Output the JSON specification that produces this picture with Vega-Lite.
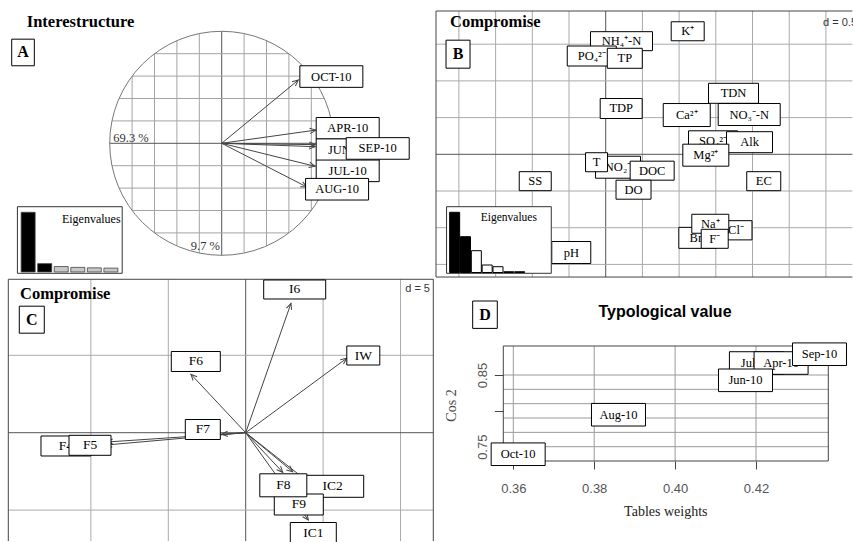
{
"$schema":"https://vega.github.io/schema/vega-lite/v6.json",
"padding":0,
"background":"white",
"bounds":"flush",
"columns":2,
"spacing":{"row":1,"column":6},
"config":{"view":{"stroke":null}},
"datasets":{
"gridA":[{"g":-0.8,"lo":-0.6,"hi":0.6},{"g":-0.6,"lo":-0.8,"hi":0.8},{"g":-0.4,"lo":-0.9165,"hi":0.9165},{"g":-0.2,"lo":-0.9798,"hi":0.9798},{"g":0,"lo":-1,"hi":1},{"g":0.2,"lo":-0.9798,"hi":0.9798},{"g":0.4,"lo":-0.9165,"hi":0.9165},{"g":0.6,"lo":-0.8,"hi":0.8},{"g":0.8,"lo":-0.6,"hi":0.6}],
"arrA":[{"lab":"OCT-10","x":0.684,"y":0.565,"lx":0.979,"ly":0.596},{"lab":"APR-10","x":0.84,"y":0.118,"lx":1.125,"ly":0.134},{"lab":"JUN-10","x":0.833,"y":-0.03,"lx":1.125,"ly":-0.057},{"lab":"JUL-10","x":0.833,"y":-0.205,"lx":1.125,"ly":-0.246},{"lab":"SEP-10","x":0.835,"y":-0.012,"lx":1.393,"ly":-0.046},{"lab":"AUG-10","x":0.76,"y":-0.39,"lx":1.03,"ly":-0.41}],
"eigA":[{"k":1,"v":4.158},{"k":2,"v":0.582},{"k":3,"v":0.38},{"k":4,"v":0.32},{"k":5,"v":0.29},{"k":6,"v":0.27}],
"eigB":[{"k":1,"v":6.02},{"k":2,"v":3.58},{"k":3,"v":2.18},{"k":4,"v":0.75},{"k":5,"v":0.58},{"k":6,"v":0.08},{"k":7,"v":0.08}],
"labB":[{"lab":"NH₄⁺-N","x":0.215,"y":1.541},{"lab":"K⁺","x":1.117,"y":1.676},{"lab":"PO₄²⁻","x":-0.19,"y":1.339},{"lab":"TP","x":0.26,"y":1.308},{"lab":"TDN","x":1.741,"y":0.831},{"lab":"TDP","x":0.211,"y":0.624},{"lab":"Ca²⁺","x":1.104,"y":0.535},{"lab":"NO₃⁻-N","x":1.955,"y":0.542},{"lab":"SO₄²⁻","x":1.462,"y":0.177},{"lab":"Alk","x":1.959,"y":0.165},{"lab":"Mg²⁺","x":1.364,"y":-0.012},{"lab":"T","x":-0.125,"y":-0.108},{"lab":"NO₂⁻","x":0.168,"y":-0.176},{"lab":"DOC","x":0.633,"y":-0.223},{"lab":"DO","x":0.379,"y":-0.482},{"lab":"SS","x":-0.96,"y":-0.366},{"lab":"EC","x":2.153,"y":-0.366},{"lab":"Na⁺","x":1.425,"y":-0.946},{"lab":"Cl⁻","x":1.775,"y":-1.035},{"lab":"Br⁻","x":1.255,"y":-1.138},{"lab":"F⁻","x":1.485,"y":-1.151},{"lab":"pH","x":-0.469,"y":-1.338}],
"gridBv":[{"g":-2},{"g":-1.5},{"g":-1},{"g":-0.5},{"g":0},{"g":0.5},{"g":1},{"g":1.5},{"g":2},{"g":2.5},{"g":3}],
"gridBh":[{"g":-1.5},{"g":-1},{"g":-0.5},{"g":0},{"g":0.5},{"g":1},{"g":1.5}],
"arrC":[{"lab":"I6","x":2.926,"y":8.359,"lx":3.165,"ly":9.251},{"lab":"IW","x":6.525,"y":4.806,"lx":7.597,"ly":4.987},{"lab":"F6","x":-3.534,"y":3.773,"lx":-3.223,"ly":4.6},{"lab":"F7","x":-1.55,"y":-0.103,"lx":-2.771,"ly":0.207},{"lab":"F4","x":-9.024,"y":-0.795,"lx":-11.609,"ly":-0.859},{"lab":"F5","x":-8.96,"y":-0.601,"lx":-10.058,"ly":-0.814},{"lab":"F8","x":2.39,"y":-2.558,"lx":2.429,"ly":-3.398},{"lab":"F9","x":3.036,"y":-2.519,"lx":3.43,"ly":-4.638},{"lab":"IC2","x":4.432,"y":-3.488,"lx":5.62,"ly":-3.463},{"lab":"IC1","x":4.044,"y":-5.64,"lx":4.367,"ly":-6.479}],
"gridCv":[{"g":-10},{"g":-5},{"g":0},{"g":5},{"g":10}],
"gridCh":[{"g":-5},{"g":0},{"g":5}],
"labD":[{"lab":"Oct-10","x":0.3612,"y":0.7395},{"lab":"Aug-10","x":0.386,"y":0.7946},{"lab":"Jul-10","x":0.4201,"y":0.8667},{"lab":"Apr-10","x":0.4262,"y":0.8667},{"lab":"Jun-10","x":0.4174,"y":0.8426},{"lab":"Sep-10","x":0.4357,"y":0.879}],
"gridDv":[{"g":0.36},{"g":0.38},{"g":0.4},{"g":0.42}],
"gridDh":[{"g":0.75},{"g":0.77},{"g":0.79},{"g":0.81},{"g":0.83},{"g":0.85}]
},
"concat":[
{"width":430,"height":278,"resolve":{"scale":{"x":"independent","y":"independent"}},"layer":[
{"layer":[
{"data":{"name":"gridA"},"mark":{"type":"rule","strokeWidth":1},"encoding":{"x":{"field":"g","type":"quantitative","scale":{"domain":[-1.9795,1.8598],"nice":false,"zero":false},"axis":null},"y":{"field":"lo","type":"quantitative","scale":{"domain":[-1.2027,1.2795],"nice":false,"zero":false},"axis":null},"y2":{"field":"hi"},"color":{"condition":{"test":"datum.g == 0","value":"#555555"},"value":"#a3a3a3"}}},
{"data":{"name":"gridA"},"mark":{"type":"rule","strokeWidth":1},"encoding":{"y":{"field":"g","type":"quantitative","scale":{"domain":[-1.2027,1.2795],"nice":false,"zero":false},"axis":null},"x":{"field":"lo","type":"quantitative","scale":{"domain":[-1.9795,1.8598],"nice":false,"zero":false},"axis":null},"x2":{"field":"hi"},"color":{"condition":{"test":"datum.g == 0","value":"#555555"},"value":"#a3a3a3"}}},
{"data":{"values":[{}]},"mark":{"type":"point","shape":"circle","size":50176,"filled":false,"stroke":"#777777","strokeWidth":1,"opacity":1},"encoding":{"x":{"datum":0,"type":"quantitative","scale":{"domain":[-1.9795,1.8598],"nice":false,"zero":false},"axis":null},"y":{"datum":0,"type":"quantitative","scale":{"domain":[-1.2027,1.2795],"nice":false,"zero":false},"axis":null}}},
{"data":{"name":"arrA"},"mark":{"type":"rule","color":"#444444","strokeWidth":1},"encoding":{"x":{"field":"x","type":"quantitative","scale":{"domain":[-1.9795,1.8598],"nice":false,"zero":false},"axis":null},"y":{"field":"y","type":"quantitative","scale":{"domain":[-1.2027,1.2795],"nice":false,"zero":false},"axis":null},"x2":{"datum":0},"y2":{"datum":0}}},
{"data":{"name":"arrA"},"transform":[{"calculate":"-atan2(datum.y, datum.x) * 180 / PI","as":"ang"}],"mark":{"type":"point","shape":"M-1,-0.45L0,0L-1,0.45","size":144,"filled":false,"stroke":"#444444","strokeWidth":1,"opacity":1},"encoding":{"x":{"field":"x","type":"quantitative","scale":{"domain":[-1.9795,1.8598],"nice":false,"zero":false},"axis":null},"y":{"field":"y","type":"quantitative","scale":{"domain":[-1.2027,1.2795],"nice":false,"zero":false},"axis":null},"angle":{"field":"ang","type":"quantitative","scale":null}}},
{"data":{"name":"arrA"},"transform":[{"filter":{"field":"lab","oneOf":["OCT-10","APR-10","JUN-10","JUL-10"]}}],"mark":{"type":"point","shape":"M-3.15,-1.08H3.15V1.08H-3.15Z","size":400,"filled":true,"fill":"white","stroke":"black","strokeWidth":1,"opacity":1},"encoding":{"x":{"field":"lx","type":"quantitative","scale":{"domain":[-1.9795,1.8598],"nice":false,"zero":false},"axis":null},"y":{"field":"ly","type":"quantitative","scale":{"domain":[-1.2027,1.2795],"nice":false,"zero":false},"axis":null}}},
{"data":{"name":"arrA"},"transform":[{"filter":{"field":"lab","oneOf":["OCT-10","APR-10","JUN-10","JUL-10"]}}],"mark":{"type":"text","font":"Liberation Serif","fontSize":12.5,"align":"center","baseline":"middle","color":"black"},"encoding":{"x":{"field":"lx","type":"quantitative","scale":{"domain":[-1.9795,1.8598],"nice":false,"zero":false},"axis":null},"y":{"field":"ly","type":"quantitative","scale":{"domain":[-1.2027,1.2795],"nice":false,"zero":false},"axis":null},"text":{"field":"lab","type":"nominal"}}},
{"data":{"name":"arrA"},"transform":[{"filter":{"field":"lab","oneOf":["SEP-10","AUG-10"]}}],"mark":{"type":"point","shape":"M-3.15,-1.08H3.15V1.08H-3.15Z","size":400,"filled":true,"fill":"white","stroke":"black","strokeWidth":1,"opacity":1},"encoding":{"x":{"field":"lx","type":"quantitative","scale":{"domain":[-1.9795,1.8598],"nice":false,"zero":false},"axis":null},"y":{"field":"ly","type":"quantitative","scale":{"domain":[-1.2027,1.2795],"nice":false,"zero":false},"axis":null}}},
{"data":{"name":"arrA"},"transform":[{"filter":{"field":"lab","oneOf":["SEP-10","AUG-10"]}}],"mark":{"type":"text","font":"Liberation Serif","fontSize":12.5,"align":"center","baseline":"middle","color":"black"},"encoding":{"x":{"field":"lx","type":"quantitative","scale":{"domain":[-1.9795,1.8598],"nice":false,"zero":false},"axis":null},"y":{"field":"ly","type":"quantitative","scale":{"domain":[-1.2027,1.2795],"nice":false,"zero":false},"axis":null},"text":{"field":"lab","type":"nominal"}}},
{"data":{"values":[{}]},"mark":{"type":"text","text":"69.3 %","font":"Liberation Serif","fontSize":12.5,"align":"left","baseline":"alphabetic","color":"#333333"},"encoding":{"x":{"datum":-0.968,"type":"quantitative","scale":{"domain":[-1.9795,1.8598],"nice":false,"zero":false},"axis":null},"y":{"datum":0.016,"type":"quantitative","scale":{"domain":[-1.2027,1.2795],"nice":false,"zero":false},"axis":null}}},
{"data":{"values":[{}]},"mark":{"type":"text","text":"9.7 %","font":"Liberation Serif","fontSize":12.5,"align":"right","baseline":"alphabetic","color":"#333333"},"encoding":{"x":{"datum":-0.015,"type":"quantitative","scale":{"domain":[-1.9795,1.8598],"nice":false,"zero":false},"axis":null},"y":{"datum":-0.953,"type":"quantitative","scale":{"domain":[-1.2027,1.2795],"nice":false,"zero":false},"axis":null}}},
{"data":{"values":[{}]},"mark":{"type":"text","text":"Interestructure","font":"Liberation Serif","fontSize":16.5,"fontWeight":"bold","align":"left","baseline":"alphabetic","color":"black"},"encoding":{"x":{"datum":-1.741,"type":"quantitative","scale":{"domain":[-1.9795,1.8598],"nice":false,"zero":false},"axis":null},"y":{"datum":1.041,"type":"quantitative","scale":{"domain":[-1.2027,1.2795],"nice":false,"zero":false},"axis":null}}},
{"data":{"values":[{}]},"mark":{"type":"point","shape":"M-1.13,-1.33H1.13V1.33H-1.13Z","size":400,"filled":true,"fill":"white","stroke":"black","strokeWidth":1,"opacity":1},"encoding":{"x":{"datum":-1.774,"type":"quantitative","scale":{"domain":[-1.9795,1.8598],"nice":false,"zero":false},"axis":null},"y":{"datum":0.811,"type":"quantitative","scale":{"domain":[-1.2027,1.2795],"nice":false,"zero":false},"axis":null}}},
{"data":{"values":[{}]},"mark":{"type":"text","text":"A","font":"Liberation Serif","fontSize":16,"fontWeight":"bold","align":"center","baseline":"middle","color":"black"},"encoding":{"x":{"datum":-1.774,"type":"quantitative","scale":{"domain":[-1.9795,1.8598],"nice":false,"zero":false},"axis":null},"y":{"datum":0.811,"type":"quantitative","scale":{"domain":[-1.2027,1.2795],"nice":false,"zero":false},"axis":null}}}
]},
{"layer":[
{"data":{"values":[{}]},"mark":{"type":"rect","fill":"white","stroke":"#333333","strokeWidth":1},"encoding":{"x":{"datum":0.351,"type":"quantitative","scale":{"domain":[-0.399,24.985],"nice":false,"zero":false},"axis":null},"x2":{"datum":6.685},"y":{"datum":-0.0905,"type":"quantitative","scale":{"domain":[-0.418,18.942],"nice":false,"zero":false},"axis":null},"y2":{"datum":4.547}}},
{"data":{"name":"eigA"},"mark":{"type":"bar","orient":"vertical","width":14,"stroke":"#444444","strokeWidth":0.8},"encoding":{"x":{"field":"k","type":"quantitative","scale":{"domain":[-0.399,24.985],"nice":false,"zero":false},"axis":null},"y":{"field":"v","type":"quantitative","scale":{"domain":[-0.418,18.942],"nice":false,"zero":false},"axis":null},"y2":{"datum":0},"fill":{"condition":{"test":"datum.k <= 2","value":"black"},"value":"#c8c8c8"}}},
{"data":{"values":[{}]},"mark":{"type":"text","text":"Eigenvalues","font":"Liberation Serif","fontSize":12,"align":"left","baseline":"alphabetic","color":"black"},"encoding":{"x":{"datum":3.043,"type":"quantitative","scale":{"domain":[-0.399,24.985],"nice":false,"zero":false},"axis":null},"y":{"datum":3.433,"type":"quantitative","scale":{"domain":[-0.418,18.942],"nice":false,"zero":false},"axis":null}}}
]}
]},
{"width":417,"height":278,"resolve":{"scale":{"x":"independent","y":"independent"}},"layer":[
{"layer":[
{"data":{"name":"gridBv"},"mark":{"type":"rule","strokeWidth":1},"encoding":{"x":{"field":"g","type":"quantitative","scale":{"domain":[-2.312,3.369],"nice":false,"zero":false},"axis":null},"y":{"datum":-1.672,"type":"quantitative","scale":{"domain":[-1.685,2.102],"nice":false,"zero":false},"axis":null},"y2":{"datum":1.952},"color":{"condition":{"test":"datum.g == 0","value":"#555555"},"value":"#aaaaaa"}}},
{"data":{"name":"gridBh"},"mark":{"type":"rule","strokeWidth":1},"encoding":{"y":{"field":"g","type":"quantitative","scale":{"domain":[-1.685,2.102],"nice":false,"zero":false},"axis":null},"x":{"datum":-2.312,"type":"quantitative","scale":{"domain":[-2.312,3.369],"nice":false,"zero":false},"axis":null},"x2":{"datum":3.36},"color":{"condition":{"test":"datum.g == 0","value":"#555555"},"value":"#aaaaaa"}}},
{"data":{"values":[{}]},"mark":{"type":"rule","color":"#444444","strokeWidth":1},"encoding":{"x":{"datum":-2.312,"type":"quantitative","scale":{"domain":[-2.312,3.369],"nice":false,"zero":false},"axis":null},"y":{"datum":-1.672,"type":"quantitative","scale":{"domain":[-1.685,2.102],"nice":false,"zero":false},"axis":null},"y2":{"datum":1.952}}},
{"data":{"values":[{"yy":1.952},{"yy":-1.672}]},"mark":{"type":"rule","color":"#444444","strokeWidth":1},"encoding":{"y":{"field":"yy","type":"quantitative","scale":{"domain":[-1.685,2.102],"nice":false,"zero":false},"axis":null},"x":{"datum":-2.312,"type":"quantitative","scale":{"domain":[-2.312,3.369],"nice":false,"zero":false},"axis":null},"x2":{"datum":3.36}}},
{"data":{"name":"labB"},"transform":[{"filter":{"field":"lab","oneOf":["NH₄⁺-N","SO₄²⁻","NO₂⁻","Cl⁻","Br⁻"]}}],"mark":{"type":"point","size":400,"filled":true,"fill":"white","stroke":"black","strokeWidth":1,"opacity":1},"encoding":{"x":{"field":"x","type":"quantitative","scale":{"domain":[-2.312,3.369],"nice":false,"zero":false},"axis":null},"y":{"field":"y","type":"quantitative","scale":{"domain":[-1.685,2.102],"nice":false,"zero":false},"axis":null},"shape":{"field":"lab","type":"nominal","legend":null,"scale":{"domain":["NH₄⁺-N","K⁺","PO₄²⁻","TP","TDN","TDP","Ca²⁺","NO₃⁻-N","SO₄²⁻","Alk","Mg²⁺","T","NO₂⁻","DOC","DO","SS","EC","Na⁺","Cl⁻","Br⁻","F⁻","pH"],"range":["M-3.1,-0.95H3.1V0.95H-3.1Z","M-1.65,-0.95H1.65V0.95H-1.65Z","M-2.45,-1H2.45V1H-2.45Z","M-1.75,-1H1.75V1H-1.75Z","M-2.5,-1H2.5V1H-2.5Z","M-2.1,-1H2.1V1H-2.1Z","M-2.35,-1.15H2.35V1.15H-2.35Z","M-3.1,-1.1H3.1V1.1H-3.1Z","M-2.45,-1.05H2.45V1.05H-2.45Z","M-2.3,-1.05H2.3V1.05H-2.3Z","M-2.3,-1.1H2.3V1.1H-2.3Z","M-1.1,-0.95H1.1V0.95H-1.1Z","M-2.25,-1.1H2.25V1.1H-2.25Z","M-2.2,-0.95H2.2V0.95H-2.2Z","M-1.75,-0.95H1.75V0.95H-1.75Z","M-1.6,-0.95H1.6V0.95H-1.6Z","M-1.7,-0.95H1.7V0.95H-1.7Z","M-1.85,-0.95H1.85V0.95H-1.85Z","M-1.6,-0.96H1.6V0.96H-1.6Z","M-1.9,-1.05H1.9V1.05H-1.9Z","M-1.35,-0.95H1.35V0.95H-1.35Z","M-1.95,-1.1H1.95V1.1H-1.95Z"]}}}},
{"data":{"name":"labB"},"transform":[{"filter":{"field":"lab","oneOf":["NH₄⁺-N","SO₄²⁻","NO₂⁻","Cl⁻","Br⁻"]}}],"mark":{"type":"text","font":"Liberation Serif","fontSize":12.5,"align":"center","baseline":"middle","color":"black"},"encoding":{"x":{"field":"x","type":"quantitative","scale":{"domain":[-2.312,3.369],"nice":false,"zero":false},"axis":null},"y":{"field":"y","type":"quantitative","scale":{"domain":[-1.685,2.102],"nice":false,"zero":false},"axis":null},"text":{"field":"lab","type":"nominal"}}},
{"data":{"name":"labB"},"transform":[{"filter":{"not":{"field":"lab","oneOf":["NH₄⁺-N","SO₄²⁻","NO₂⁻","Cl⁻","Br⁻","TP","F⁻"]}}}],"mark":{"type":"point","size":400,"filled":true,"fill":"white","stroke":"black","strokeWidth":1,"opacity":1},"encoding":{"x":{"field":"x","type":"quantitative","scale":{"domain":[-2.312,3.369],"nice":false,"zero":false},"axis":null},"y":{"field":"y","type":"quantitative","scale":{"domain":[-1.685,2.102],"nice":false,"zero":false},"axis":null},"shape":{"field":"lab","type":"nominal","legend":null,"scale":{"domain":["NH₄⁺-N","K⁺","PO₄²⁻","TP","TDN","TDP","Ca²⁺","NO₃⁻-N","SO₄²⁻","Alk","Mg²⁺","T","NO₂⁻","DOC","DO","SS","EC","Na⁺","Cl⁻","Br⁻","F⁻","pH"],"range":["M-3.1,-0.95H3.1V0.95H-3.1Z","M-1.65,-0.95H1.65V0.95H-1.65Z","M-2.45,-1H2.45V1H-2.45Z","M-1.75,-1H1.75V1H-1.75Z","M-2.5,-1H2.5V1H-2.5Z","M-2.1,-1H2.1V1H-2.1Z","M-2.35,-1.15H2.35V1.15H-2.35Z","M-3.1,-1.1H3.1V1.1H-3.1Z","M-2.45,-1.05H2.45V1.05H-2.45Z","M-2.3,-1.05H2.3V1.05H-2.3Z","M-2.3,-1.1H2.3V1.1H-2.3Z","M-1.1,-0.95H1.1V0.95H-1.1Z","M-2.25,-1.1H2.25V1.1H-2.25Z","M-2.2,-0.95H2.2V0.95H-2.2Z","M-1.75,-0.95H1.75V0.95H-1.75Z","M-1.6,-0.95H1.6V0.95H-1.6Z","M-1.7,-0.95H1.7V0.95H-1.7Z","M-1.85,-0.95H1.85V0.95H-1.85Z","M-1.6,-0.96H1.6V0.96H-1.6Z","M-1.9,-1.05H1.9V1.05H-1.9Z","M-1.35,-0.95H1.35V0.95H-1.35Z","M-1.95,-1.1H1.95V1.1H-1.95Z"]}}}},
{"data":{"name":"labB"},"transform":[{"filter":{"not":{"field":"lab","oneOf":["NH₄⁺-N","SO₄²⁻","NO₂⁻","Cl⁻","Br⁻","TP","F⁻"]}}}],"mark":{"type":"text","font":"Liberation Serif","fontSize":12.5,"align":"center","baseline":"middle","color":"black"},"encoding":{"x":{"field":"x","type":"quantitative","scale":{"domain":[-2.312,3.369],"nice":false,"zero":false},"axis":null},"y":{"field":"y","type":"quantitative","scale":{"domain":[-1.685,2.102],"nice":false,"zero":false},"axis":null},"text":{"field":"lab","type":"nominal"}}},
{"data":{"name":"labB"},"transform":[{"filter":{"field":"lab","oneOf":["TP","F⁻"]}}],"mark":{"type":"point","size":400,"filled":true,"fill":"white","stroke":"black","strokeWidth":1,"opacity":1},"encoding":{"x":{"field":"x","type":"quantitative","scale":{"domain":[-2.312,3.369],"nice":false,"zero":false},"axis":null},"y":{"field":"y","type":"quantitative","scale":{"domain":[-1.685,2.102],"nice":false,"zero":false},"axis":null},"shape":{"field":"lab","type":"nominal","legend":null,"scale":{"domain":["NH₄⁺-N","K⁺","PO₄²⁻","TP","TDN","TDP","Ca²⁺","NO₃⁻-N","SO₄²⁻","Alk","Mg²⁺","T","NO₂⁻","DOC","DO","SS","EC","Na⁺","Cl⁻","Br⁻","F⁻","pH"],"range":["M-3.1,-0.95H3.1V0.95H-3.1Z","M-1.65,-0.95H1.65V0.95H-1.65Z","M-2.45,-1H2.45V1H-2.45Z","M-1.75,-1H1.75V1H-1.75Z","M-2.5,-1H2.5V1H-2.5Z","M-2.1,-1H2.1V1H-2.1Z","M-2.35,-1.15H2.35V1.15H-2.35Z","M-3.1,-1.1H3.1V1.1H-3.1Z","M-2.45,-1.05H2.45V1.05H-2.45Z","M-2.3,-1.05H2.3V1.05H-2.3Z","M-2.3,-1.1H2.3V1.1H-2.3Z","M-1.1,-0.95H1.1V0.95H-1.1Z","M-2.25,-1.1H2.25V1.1H-2.25Z","M-2.2,-0.95H2.2V0.95H-2.2Z","M-1.75,-0.95H1.75V0.95H-1.75Z","M-1.6,-0.95H1.6V0.95H-1.6Z","M-1.7,-0.95H1.7V0.95H-1.7Z","M-1.85,-0.95H1.85V0.95H-1.85Z","M-1.6,-0.96H1.6V0.96H-1.6Z","M-1.9,-1.05H1.9V1.05H-1.9Z","M-1.35,-0.95H1.35V0.95H-1.35Z","M-1.95,-1.1H1.95V1.1H-1.95Z"]}}}},
{"data":{"name":"labB"},"transform":[{"filter":{"field":"lab","oneOf":["TP","F⁻"]}}],"mark":{"type":"text","font":"Liberation Serif","fontSize":12.5,"align":"center","baseline":"middle","color":"black"},"encoding":{"x":{"field":"x","type":"quantitative","scale":{"domain":[-2.312,3.369],"nice":false,"zero":false},"axis":null},"y":{"field":"y","type":"quantitative","scale":{"domain":[-1.685,2.102],"nice":false,"zero":false},"axis":null},"text":{"field":"lab","type":"nominal"}}},
{"data":{"values":[{}]},"mark":{"type":"text","text":"Compromise","font":"Liberation Serif","fontSize":16.5,"fontWeight":"bold","align":"left","baseline":"alphabetic","color":"black"},"encoding":{"x":{"datum":-2.121,"type":"quantitative","scale":{"domain":[-2.312,3.369],"nice":false,"zero":false},"axis":null},"y":{"datum":1.734,"type":"quantitative","scale":{"domain":[-1.685,2.102],"nice":false,"zero":false},"axis":null}}},
{"data":{"values":[{}]},"mark":{"type":"point","shape":"M-1.2,-1.4H1.2V1.4H-1.2Z","size":400,"filled":true,"fill":"white","stroke":"black","strokeWidth":1,"opacity":1},"encoding":{"x":{"datum":-2.012,"type":"quantitative","scale":{"domain":[-2.312,3.369],"nice":false,"zero":false},"axis":null},"y":{"datum":1.364,"type":"quantitative","scale":{"domain":[-1.685,2.102],"nice":false,"zero":false},"axis":null}}},
{"data":{"values":[{}]},"mark":{"type":"text","text":"B","font":"Liberation Serif","fontSize":16,"fontWeight":"bold","align":"center","baseline":"middle","color":"black"},"encoding":{"x":{"datum":-2.012,"type":"quantitative","scale":{"domain":[-2.312,3.369],"nice":false,"zero":false},"axis":null},"y":{"datum":1.364,"type":"quantitative","scale":{"domain":[-1.685,2.102],"nice":false,"zero":false},"axis":null}}},
{"data":{"values":[{}]},"mark":{"type":"text","text":"d = 0.5","font":"Liberation Sans","fontSize":11,"align":"left","baseline":"alphabetic","color":"#333333","clip":true},"encoding":{"x":{"datum":2.961,"type":"quantitative","scale":{"domain":[-2.312,3.369],"nice":false,"zero":false},"axis":null},"y":{"datum":1.748,"type":"quantitative","scale":{"domain":[-1.685,2.102],"nice":false,"zero":false},"axis":null}}}
]},
{"layer":[
{"data":{"values":[{}]},"mark":{"type":"rect","fill":"white","stroke":"#333333","strokeWidth":1},"encoding":{"x":{"datum":0.252,"type":"quantitative","scale":{"domain":[-0.261,37.306],"nice":false,"zero":false},"axis":null},"x2":{"datum":9.919},"y":{"datum":-0.08,"type":"quantitative","scale":{"domain":[-0.55,27.25],"nice":false,"zero":false},"axis":null},"y2":{"datum":6.58}}},
{"data":{"name":"eigB"},"mark":{"type":"bar","orient":"vertical","width":10,"stroke":"black","strokeWidth":1},"encoding":{"x":{"field":"k","type":"quantitative","scale":{"domain":[-0.261,37.306],"nice":false,"zero":false},"axis":null},"y":{"field":"v","type":"quantitative","scale":{"domain":[-0.55,27.25],"nice":false,"zero":false},"axis":null},"y2":{"datum":0},"fill":{"condition":{"test":"datum.k <= 2","value":"black"},"value":"white"}}},
{"data":{"values":[{}]},"mark":{"type":"text","text":"Eigenvalues","font":"Liberation Serif","fontSize":11.5,"align":"left","baseline":"alphabetic","color":"black"},"encoding":{"x":{"datum":3.405,"type":"quantitative","scale":{"domain":[-0.261,37.306],"nice":false,"zero":false},"axis":null},"y":{"datum":5.15,"type":"quantitative","scale":{"domain":[-0.55,27.25],"nice":false,"zero":false},"axis":null}}}
]}
]},
{"width":430,"height":263,"layer":[
{"data":{"name":"gridCv"},"mark":{"type":"rule","strokeWidth":1},"encoding":{"x":{"field":"g","type":"quantitative","scale":{"domain":[-15.872,11.906],"nice":false,"zero":false},"axis":null},"y":{"datum":-7.0,"type":"quantitative","scale":{"domain":[-7.061,9.929],"nice":false,"zero":false},"axis":null},"y2":{"datum":9.91},"color":{"condition":{"test":"datum.g == 0","value":"#555555"},"value":"#aaaaaa"}}},
{"data":{"name":"gridCh"},"mark":{"type":"rule","strokeWidth":1},"encoding":{"y":{"field":"g","type":"quantitative","scale":{"domain":[-7.061,9.929],"nice":false,"zero":false},"axis":null},"x":{"datum":-15.336,"type":"quantitative","scale":{"domain":[-15.872,11.906],"nice":false,"zero":false},"axis":null},"x2":{"datum":12.119},"color":{"condition":{"test":"datum.g == 0","value":"#555555"},"value":"#aaaaaa"}}},
{"data":{"values":[{"xx":-15.336},{"xx":12.119}]},"mark":{"type":"rule","color":"#444444","strokeWidth":1},"encoding":{"x":{"field":"xx","type":"quantitative","scale":{"domain":[-15.872,11.906],"nice":false,"zero":false},"axis":null},"y":{"datum":-7.0,"type":"quantitative","scale":{"domain":[-7.061,9.929],"nice":false,"zero":false},"axis":null},"y2":{"datum":9.91}}},
{"data":{"values":[{}]},"mark":{"type":"rule","color":"#444444","strokeWidth":1},"encoding":{"y":{"datum":9.91,"type":"quantitative","scale":{"domain":[-7.061,9.929],"nice":false,"zero":false},"axis":null},"x":{"datum":-15.336,"type":"quantitative","scale":{"domain":[-15.872,11.906],"nice":false,"zero":false},"axis":null},"x2":{"datum":12.119}}},
{"data":{"name":"arrC"},"mark":{"type":"rule","color":"#444444","strokeWidth":1},"encoding":{"x":{"field":"x","type":"quantitative","scale":{"domain":[-15.872,11.906],"nice":false,"zero":false},"axis":null},"y":{"field":"y","type":"quantitative","scale":{"domain":[-7.061,9.929],"nice":false,"zero":false},"axis":null},"x2":{"datum":0},"y2":{"datum":0}}},
{"data":{"name":"arrC"},"transform":[{"calculate":"-atan2(datum.y, datum.x) * 180 / PI","as":"ang"}],"mark":{"type":"point","shape":"M-1,-0.45L0,0L-1,0.45","size":144,"filled":false,"stroke":"#444444","strokeWidth":1,"opacity":1},"encoding":{"x":{"field":"x","type":"quantitative","scale":{"domain":[-15.872,11.906],"nice":false,"zero":false},"axis":null},"y":{"field":"y","type":"quantitative","scale":{"domain":[-7.061,9.929],"nice":false,"zero":false},"axis":null},"angle":{"field":"ang","type":"quantitative","scale":null}}},
{"data":{"name":"arrC"},"transform":[{"filter":{"field":"lab","oneOf":["F4","IC2","IC1","IW","F6","F7"]}}],"mark":{"type":"point","size":400,"filled":true,"fill":"white","stroke":"black","strokeWidth":1,"opacity":1,"clip":true},"encoding":{"x":{"field":"lx","type":"quantitative","scale":{"domain":[-15.872,11.906],"nice":false,"zero":false},"axis":null},"y":{"field":"ly","type":"quantitative","scale":{"domain":[-7.061,9.929],"nice":false,"zero":false},"axis":null},"shape":{"field":"lab","type":"nominal","legend":null,"scale":{"domain":["I6","IW","F6","F7","F4","F5","F8","IC2","F9","IC1"],"range":["M-1.35,-1.3H1.35V1.3H-1.35Z","M-1.65,-1.3H1.65V1.3H-1.65Z","M-1.65,-1.25H1.65V1.25H-1.65Z","M-1.7,-1.3H1.7V1.3H-1.7Z","M-1.67,-1.3H1.67V1.3H-1.67Z","M-1.66,-1.3H1.66V1.3H-1.66Z","M-1.6,-1.3H1.6V1.3H-1.6Z","M-2,-1.3H2V1.3H-2Z","M-1.71,-1.3H1.71V1.3H-1.71Z","M-1.95,-1.3H1.95V1.3H-1.95Z"]}}}},
{"data":{"name":"arrC"},"transform":[{"filter":{"field":"lab","oneOf":["F4","IC2","IC1","IW","F6","F7"]}}],"mark":{"type":"text","font":"Liberation Serif","fontSize":13.5,"align":"center","baseline":"middle","color":"black"},"encoding":{"x":{"field":"lx","type":"quantitative","scale":{"domain":[-15.872,11.906],"nice":false,"zero":false},"axis":null},"y":{"field":"ly","type":"quantitative","scale":{"domain":[-7.061,9.929],"nice":false,"zero":false},"axis":null},"text":{"field":"lab","type":"nominal"}}},
{"data":{"name":"arrC"},"transform":[{"filter":{"field":"lab","oneOf":["F5","F9","I6"]}}],"mark":{"type":"point","size":400,"filled":true,"fill":"white","stroke":"black","strokeWidth":1,"opacity":1},"encoding":{"x":{"field":"lx","type":"quantitative","scale":{"domain":[-15.872,11.906],"nice":false,"zero":false},"axis":null},"y":{"field":"ly","type":"quantitative","scale":{"domain":[-7.061,9.929],"nice":false,"zero":false},"axis":null},"shape":{"field":"lab","type":"nominal","legend":null,"scale":{"domain":["I6","IW","F6","F7","F4","F5","F8","IC2","F9","IC1"],"range":["M-1.35,-1.3H1.35V1.3H-1.35Z","M-1.65,-1.3H1.65V1.3H-1.65Z","M-1.65,-1.25H1.65V1.25H-1.65Z","M-1.7,-1.3H1.7V1.3H-1.7Z","M-1.67,-1.3H1.67V1.3H-1.67Z","M-1.66,-1.3H1.66V1.3H-1.66Z","M-1.6,-1.3H1.6V1.3H-1.6Z","M-2,-1.3H2V1.3H-2Z","M-1.71,-1.3H1.71V1.3H-1.71Z","M-1.95,-1.3H1.95V1.3H-1.95Z"]}}}},
{"data":{"name":"arrC"},"transform":[{"filter":{"field":"lab","oneOf":["F5","F9","I6"]}}],"mark":{"type":"text","font":"Liberation Serif","fontSize":13.5,"align":"center","baseline":"middle","color":"black"},"encoding":{"x":{"field":"lx","type":"quantitative","scale":{"domain":[-15.872,11.906],"nice":false,"zero":false},"axis":null},"y":{"field":"ly","type":"quantitative","scale":{"domain":[-7.061,9.929],"nice":false,"zero":false},"axis":null},"text":{"field":"lab","type":"nominal"}}},
{"data":{"name":"arrC"},"transform":[{"filter":{"field":"lab","oneOf":["F8"]}}],"mark":{"type":"point","size":400,"filled":true,"fill":"white","stroke":"black","strokeWidth":1,"opacity":1},"encoding":{"x":{"field":"lx","type":"quantitative","scale":{"domain":[-15.872,11.906],"nice":false,"zero":false},"axis":null},"y":{"field":"ly","type":"quantitative","scale":{"domain":[-7.061,9.929],"nice":false,"zero":false},"axis":null},"shape":{"field":"lab","type":"nominal","legend":null,"scale":{"domain":["I6","IW","F6","F7","F4","F5","F8","IC2","F9","IC1"],"range":["M-1.35,-1.3H1.35V1.3H-1.35Z","M-1.65,-1.3H1.65V1.3H-1.65Z","M-1.65,-1.25H1.65V1.25H-1.65Z","M-1.7,-1.3H1.7V1.3H-1.7Z","M-1.67,-1.3H1.67V1.3H-1.67Z","M-1.66,-1.3H1.66V1.3H-1.66Z","M-1.6,-1.3H1.6V1.3H-1.6Z","M-2,-1.3H2V1.3H-2Z","M-1.71,-1.3H1.71V1.3H-1.71Z","M-1.95,-1.3H1.95V1.3H-1.95Z"]}}}},
{"data":{"name":"arrC"},"transform":[{"filter":{"field":"lab","oneOf":["F8"]}}],"mark":{"type":"text","font":"Liberation Serif","fontSize":13.5,"align":"center","baseline":"middle","color":"black"},"encoding":{"x":{"field":"lx","type":"quantitative","scale":{"domain":[-15.872,11.906],"nice":false,"zero":false},"axis":null},"y":{"field":"ly","type":"quantitative","scale":{"domain":[-7.061,9.929],"nice":false,"zero":false},"axis":null},"text":{"field":"lab","type":"nominal"}}},
{"data":{"values":[{}]},"mark":{"type":"text","text":"Compromise","font":"Liberation Serif","fontSize":16.5,"fontWeight":"bold","align":"left","baseline":"alphabetic","color":"black"},"encoding":{"x":{"datum":-14.58,"type":"quantitative","scale":{"domain":[-15.872,11.906],"nice":false,"zero":false},"axis":null},"y":{"datum":8.618,"type":"quantitative","scale":{"domain":[-7.061,9.929],"nice":false,"zero":false},"axis":null}}},
{"data":{"values":[{}]},"mark":{"type":"point","shape":"M-1.25,-1.35H1.25V1.35H-1.25Z","size":400,"filled":true,"fill":"white","stroke":"black","strokeWidth":1,"opacity":1},"encoding":{"x":{"datum":-13.818,"type":"quantitative","scale":{"domain":[-15.872,11.906],"nice":false,"zero":false},"axis":null},"y":{"datum":7.3,"type":"quantitative","scale":{"domain":[-7.061,9.929],"nice":false,"zero":false},"axis":null}}},
{"data":{"values":[{}]},"mark":{"type":"text","text":"C","font":"Liberation Serif","fontSize":16,"fontWeight":"bold","align":"center","baseline":"middle","color":"black"},"encoding":{"x":{"datum":-13.818,"type":"quantitative","scale":{"domain":[-15.872,11.906],"nice":false,"zero":false},"axis":null},"y":{"datum":7.3,"type":"quantitative","scale":{"domain":[-7.061,9.929],"nice":false,"zero":false},"axis":null}}},
{"data":{"values":[{}]},"mark":{"type":"text","text":"d = 5","font":"Liberation Sans","fontSize":11,"align":"right","baseline":"alphabetic","color":"#333333"},"encoding":{"x":{"datum":11.906,"type":"quantitative","scale":{"domain":[-15.872,11.906],"nice":false,"zero":false},"axis":null},"y":{"datum":9.089,"type":"quantitative","scale":{"domain":[-7.061,9.929],"nice":false,"zero":false},"axis":null}}}
]},
{"width":392.3,"height":182,"layer":[
{"data":{"name":"gridDv"},"mark":{"type":"rule","strokeWidth":1,"color":"#9a9a9a"},"encoding":{"x":{"field":"g","type":"quantitative","scale":{"domain":[0.34089,0.43787],"nice":false,"zero":false},"axis":{"values":[0.36,0.38,0.4,0.42],"format":".2f","title":null,"domain":false,"grid":false,"ticks":true,"tickSize":8,"tickColor":"#444444","labelFont":"Liberation Sans","labelFontSize":13,"labelColor":"#555555","labelPadding":13,"labelFlush":false,"labelOverlap":false}},"y":{"datum":0.73006,"type":"quantitative","scale":{"domain":[0.73006,0.98389],"nice":false,"zero":false},"axis":{"values":[0.75,0.8,0.85],"labelExpr":"abs(datum.value - 0.8) < 0.001 ? '' : format(datum.value, '.2f')","title":null,"domain":false,"grid":false,"ticks":true,"tickSize":9,"tickColor":"#444444","labelAngle":-90,"labelAlign":"center","labelBaseline":"alphabetic","labelPadding":7.6,"labelFont":"Liberation Sans","labelFontSize":13,"labelColor":"#555555","labelFlush":false,"labelOverlap":false,"offset":-67.3}},"y2":{"datum":0.89045}}},
{"data":{"name":"gridDh"},"mark":{"type":"rule","strokeWidth":1,"color":"#9a9a9a"},"encoding":{"y":{"field":"g","type":"quantitative","scale":{"domain":[0.73006,0.98389],"nice":false,"zero":false},"axis":{"values":[0.75,0.8,0.85],"labelExpr":"abs(datum.value - 0.8) < 0.001 ? '' : format(datum.value, '.2f')","title":null,"domain":false,"grid":false,"ticks":true,"tickSize":9,"tickColor":"#444444","labelAngle":-90,"labelAlign":"center","labelBaseline":"alphabetic","labelPadding":7.6,"labelFont":"Liberation Sans","labelFontSize":13,"labelColor":"#555555","labelFlush":false,"labelOverlap":false,"offset":-67.3}},"x":{"datum":0.35753,"type":"quantitative","scale":{"domain":[0.34089,0.43787],"nice":false,"zero":false},"axis":{"values":[0.36,0.38,0.4,0.42],"format":".2f","title":null,"domain":false,"grid":false,"ticks":true,"tickSize":8,"tickColor":"#444444","labelFont":"Liberation Sans","labelFontSize":13,"labelColor":"#555555","labelPadding":13,"labelFlush":false,"labelOverlap":false}},"x2":{"datum":0.43787}}},
{"data":{"values":[{}]},"mark":{"type":"rect","filled":false,"stroke":"#444444","strokeWidth":1},"encoding":{"x":{"datum":0.35753,"type":"quantitative","scale":{"domain":[0.34089,0.43787],"nice":false,"zero":false},"axis":{"values":[0.36,0.38,0.4,0.42],"format":".2f","title":null,"domain":false,"grid":false,"ticks":true,"tickSize":8,"tickColor":"#444444","labelFont":"Liberation Sans","labelFontSize":13,"labelColor":"#555555","labelPadding":13,"labelFlush":false,"labelOverlap":false}},"x2":{"datum":0.43787},"y":{"datum":0.73006,"type":"quantitative","scale":{"domain":[0.73006,0.98389],"nice":false,"zero":false},"axis":{"values":[0.75,0.8,0.85],"labelExpr":"abs(datum.value - 0.8) < 0.001 ? '' : format(datum.value, '.2f')","title":null,"domain":false,"grid":false,"ticks":true,"tickSize":9,"tickColor":"#444444","labelAngle":-90,"labelAlign":"center","labelBaseline":"alphabetic","labelPadding":7.6,"labelFont":"Liberation Sans","labelFontSize":13,"labelColor":"#555555","labelFlush":false,"labelOverlap":false,"offset":-67.3}},"y2":{"datum":0.89045}}},
{"data":{"name":"labD"},"transform":[{"filter":{"field":"lab","oneOf":["Oct-10","Aug-10","Jul-10"]}}],"mark":{"type":"point","shape":"M-2.7,-1.13H2.7V1.13H-2.7Z","size":400,"filled":true,"fill":"white","stroke":"black","strokeWidth":1,"opacity":1},"encoding":{"x":{"field":"x","type":"quantitative","scale":{"domain":[0.34089,0.43787],"nice":false,"zero":false},"axis":{"values":[0.36,0.38,0.4,0.42],"format":".2f","title":null,"domain":false,"grid":false,"ticks":true,"tickSize":8,"tickColor":"#444444","labelFont":"Liberation Sans","labelFontSize":13,"labelColor":"#555555","labelPadding":13,"labelFlush":false,"labelOverlap":false}},"y":{"field":"y","type":"quantitative","scale":{"domain":[0.73006,0.98389],"nice":false,"zero":false},"axis":{"values":[0.75,0.8,0.85],"labelExpr":"abs(datum.value - 0.8) < 0.001 ? '' : format(datum.value, '.2f')","title":null,"domain":false,"grid":false,"ticks":true,"tickSize":9,"tickColor":"#444444","labelAngle":-90,"labelAlign":"center","labelBaseline":"alphabetic","labelPadding":7.6,"labelFont":"Liberation Sans","labelFontSize":13,"labelColor":"#555555","labelFlush":false,"labelOverlap":false,"offset":-67.3}}}},
{"data":{"name":"labD"},"transform":[{"filter":{"field":"lab","oneOf":["Oct-10","Aug-10","Jul-10"]}}],"mark":{"type":"text","font":"Liberation Serif","fontSize":12.5,"align":"center","baseline":"middle","color":"black"},"encoding":{"x":{"field":"x","type":"quantitative","scale":{"domain":[0.34089,0.43787],"nice":false,"zero":false},"axis":{"values":[0.36,0.38,0.4,0.42],"format":".2f","title":null,"domain":false,"grid":false,"ticks":true,"tickSize":8,"tickColor":"#444444","labelFont":"Liberation Sans","labelFontSize":13,"labelColor":"#555555","labelPadding":13,"labelFlush":false,"labelOverlap":false}},"y":{"field":"y","type":"quantitative","scale":{"domain":[0.73006,0.98389],"nice":false,"zero":false},"axis":{"values":[0.75,0.8,0.85],"labelExpr":"abs(datum.value - 0.8) < 0.001 ? '' : format(datum.value, '.2f')","title":null,"domain":false,"grid":false,"ticks":true,"tickSize":9,"tickColor":"#444444","labelAngle":-90,"labelAlign":"center","labelBaseline":"alphabetic","labelPadding":7.6,"labelFont":"Liberation Sans","labelFontSize":13,"labelColor":"#555555","labelFlush":false,"labelOverlap":false,"offset":-67.3}},"text":{"field":"lab","type":"nominal"}}},
{"data":{"name":"labD"},"transform":[{"filter":{"field":"lab","oneOf":["Apr-10"]}}],"mark":{"type":"point","shape":"M-2.7,-1.13H2.7V1.13H-2.7Z","size":400,"filled":true,"fill":"white","stroke":"black","strokeWidth":1,"opacity":1},"encoding":{"x":{"field":"x","type":"quantitative","scale":{"domain":[0.34089,0.43787],"nice":false,"zero":false},"axis":{"values":[0.36,0.38,0.4,0.42],"format":".2f","title":null,"domain":false,"grid":false,"ticks":true,"tickSize":8,"tickColor":"#444444","labelFont":"Liberation Sans","labelFontSize":13,"labelColor":"#555555","labelPadding":13,"labelFlush":false,"labelOverlap":false}},"y":{"field":"y","type":"quantitative","scale":{"domain":[0.73006,0.98389],"nice":false,"zero":false},"axis":{"values":[0.75,0.8,0.85],"labelExpr":"abs(datum.value - 0.8) < 0.001 ? '' : format(datum.value, '.2f')","title":null,"domain":false,"grid":false,"ticks":true,"tickSize":9,"tickColor":"#444444","labelAngle":-90,"labelAlign":"center","labelBaseline":"alphabetic","labelPadding":7.6,"labelFont":"Liberation Sans","labelFontSize":13,"labelColor":"#555555","labelFlush":false,"labelOverlap":false,"offset":-67.3}}}},
{"data":{"name":"labD"},"transform":[{"filter":{"field":"lab","oneOf":["Apr-10"]}}],"mark":{"type":"text","font":"Liberation Serif","fontSize":12.5,"align":"center","baseline":"middle","color":"black"},"encoding":{"x":{"field":"x","type":"quantitative","scale":{"domain":[0.34089,0.43787],"nice":false,"zero":false},"axis":{"values":[0.36,0.38,0.4,0.42],"format":".2f","title":null,"domain":false,"grid":false,"ticks":true,"tickSize":8,"tickColor":"#444444","labelFont":"Liberation Sans","labelFontSize":13,"labelColor":"#555555","labelPadding":13,"labelFlush":false,"labelOverlap":false}},"y":{"field":"y","type":"quantitative","scale":{"domain":[0.73006,0.98389],"nice":false,"zero":false},"axis":{"values":[0.75,0.8,0.85],"labelExpr":"abs(datum.value - 0.8) < 0.001 ? '' : format(datum.value, '.2f')","title":null,"domain":false,"grid":false,"ticks":true,"tickSize":9,"tickColor":"#444444","labelAngle":-90,"labelAlign":"center","labelBaseline":"alphabetic","labelPadding":7.6,"labelFont":"Liberation Sans","labelFontSize":13,"labelColor":"#555555","labelFlush":false,"labelOverlap":false,"offset":-67.3}},"text":{"field":"lab","type":"nominal"}}},
{"data":{"name":"labD"},"transform":[{"filter":{"field":"lab","oneOf":["Jun-10","Sep-10"]}}],"mark":{"type":"point","shape":"M-2.7,-1.13H2.7V1.13H-2.7Z","size":400,"filled":true,"fill":"white","stroke":"black","strokeWidth":1,"opacity":1},"encoding":{"x":{"field":"x","type":"quantitative","scale":{"domain":[0.34089,0.43787],"nice":false,"zero":false},"axis":{"values":[0.36,0.38,0.4,0.42],"format":".2f","title":null,"domain":false,"grid":false,"ticks":true,"tickSize":8,"tickColor":"#444444","labelFont":"Liberation Sans","labelFontSize":13,"labelColor":"#555555","labelPadding":13,"labelFlush":false,"labelOverlap":false}},"y":{"field":"y","type":"quantitative","scale":{"domain":[0.73006,0.98389],"nice":false,"zero":false},"axis":{"values":[0.75,0.8,0.85],"labelExpr":"abs(datum.value - 0.8) < 0.001 ? '' : format(datum.value, '.2f')","title":null,"domain":false,"grid":false,"ticks":true,"tickSize":9,"tickColor":"#444444","labelAngle":-90,"labelAlign":"center","labelBaseline":"alphabetic","labelPadding":7.6,"labelFont":"Liberation Sans","labelFontSize":13,"labelColor":"#555555","labelFlush":false,"labelOverlap":false,"offset":-67.3}}}},
{"data":{"name":"labD"},"transform":[{"filter":{"field":"lab","oneOf":["Jun-10","Sep-10"]}}],"mark":{"type":"text","font":"Liberation Serif","fontSize":12.5,"align":"center","baseline":"middle","color":"black"},"encoding":{"x":{"field":"x","type":"quantitative","scale":{"domain":[0.34089,0.43787],"nice":false,"zero":false},"axis":{"values":[0.36,0.38,0.4,0.42],"format":".2f","title":null,"domain":false,"grid":false,"ticks":true,"tickSize":8,"tickColor":"#444444","labelFont":"Liberation Sans","labelFontSize":13,"labelColor":"#555555","labelPadding":13,"labelFlush":false,"labelOverlap":false}},"y":{"field":"y","type":"quantitative","scale":{"domain":[0.73006,0.98389],"nice":false,"zero":false},"axis":{"values":[0.75,0.8,0.85],"labelExpr":"abs(datum.value - 0.8) < 0.001 ? '' : format(datum.value, '.2f')","title":null,"domain":false,"grid":false,"ticks":true,"tickSize":9,"tickColor":"#444444","labelAngle":-90,"labelAlign":"center","labelBaseline":"alphabetic","labelPadding":7.6,"labelFont":"Liberation Sans","labelFontSize":13,"labelColor":"#555555","labelFlush":false,"labelOverlap":false,"offset":-67.3}},"text":{"field":"lab","type":"nominal"}}},
{"data":{"values":[{}]},"mark":{"type":"text","text":"Typological value","font":"Liberation Sans","fontSize":16,"fontWeight":"bold","align":"center","baseline":"alphabetic","color":"black"},"encoding":{"x":{"datum":0.3975,"type":"quantitative","scale":{"domain":[0.34089,0.43787],"nice":false,"zero":false},"axis":{"values":[0.36,0.38,0.4,0.42],"format":".2f","title":null,"domain":false,"grid":false,"ticks":true,"tickSize":8,"tickColor":"#444444","labelFont":"Liberation Sans","labelFontSize":13,"labelColor":"#555555","labelPadding":13,"labelFlush":false,"labelOverlap":false}},"y":{"datum":0.9306,"type":"quantitative","scale":{"domain":[0.73006,0.98389],"nice":false,"zero":false},"axis":{"values":[0.75,0.8,0.85],"labelExpr":"abs(datum.value - 0.8) < 0.001 ? '' : format(datum.value, '.2f')","title":null,"domain":false,"grid":false,"ticks":true,"tickSize":9,"tickColor":"#444444","labelAngle":-90,"labelAlign":"center","labelBaseline":"alphabetic","labelPadding":7.6,"labelFont":"Liberation Sans","labelFontSize":13,"labelColor":"#555555","labelFlush":false,"labelOverlap":false,"offset":-67.3}}}},
{"data":{"values":[{}]},"mark":{"type":"point","shape":"M-1.23,-1.37H1.23V1.37H-1.23Z","size":400,"filled":true,"fill":"white","stroke":"black","strokeWidth":1,"opacity":1},"encoding":{"x":{"datum":0.353,"type":"quantitative","scale":{"domain":[0.34089,0.43787],"nice":false,"zero":false},"axis":{"values":[0.36,0.38,0.4,0.42],"format":".2f","title":null,"domain":false,"grid":false,"ticks":true,"tickSize":8,"tickColor":"#444444","labelFont":"Liberation Sans","labelFontSize":13,"labelColor":"#555555","labelPadding":13,"labelFlush":false,"labelOverlap":false}},"y":{"datum":0.9341,"type":"quantitative","scale":{"domain":[0.73006,0.98389],"nice":false,"zero":false},"axis":{"values":[0.75,0.8,0.85],"labelExpr":"abs(datum.value - 0.8) < 0.001 ? '' : format(datum.value, '.2f')","title":null,"domain":false,"grid":false,"ticks":true,"tickSize":9,"tickColor":"#444444","labelAngle":-90,"labelAlign":"center","labelBaseline":"alphabetic","labelPadding":7.6,"labelFont":"Liberation Sans","labelFontSize":13,"labelColor":"#555555","labelFlush":false,"labelOverlap":false,"offset":-67.3}}}},
{"data":{"values":[{}]},"mark":{"type":"text","text":"D","font":"Liberation Serif","fontSize":16,"fontWeight":"bold","align":"center","baseline":"middle","color":"black"},"encoding":{"x":{"datum":0.353,"type":"quantitative","scale":{"domain":[0.34089,0.43787],"nice":false,"zero":false},"axis":{"values":[0.36,0.38,0.4,0.42],"format":".2f","title":null,"domain":false,"grid":false,"ticks":true,"tickSize":8,"tickColor":"#444444","labelFont":"Liberation Sans","labelFontSize":13,"labelColor":"#555555","labelPadding":13,"labelFlush":false,"labelOverlap":false}},"y":{"datum":0.9341,"type":"quantitative","scale":{"domain":[0.73006,0.98389],"nice":false,"zero":false},"axis":{"values":[0.75,0.8,0.85],"labelExpr":"abs(datum.value - 0.8) < 0.001 ? '' : format(datum.value, '.2f')","title":null,"domain":false,"grid":false,"ticks":true,"tickSize":9,"tickColor":"#444444","labelAngle":-90,"labelAlign":"center","labelBaseline":"alphabetic","labelPadding":7.6,"labelFont":"Liberation Sans","labelFontSize":13,"labelColor":"#555555","labelFlush":false,"labelOverlap":false,"offset":-67.3}}}},
{"data":{"values":[{}]},"mark":{"type":"text","text":"Cos 2","font":"Liberation Serif","fontSize":14,"angle":270,"align":"center","baseline":"middle","color":"#444444"},"encoding":{"x":{"datum":0.34477,"type":"quantitative","scale":{"domain":[0.34089,0.43787],"nice":false,"zero":false},"axis":{"values":[0.36,0.38,0.4,0.42],"format":".2f","title":null,"domain":false,"grid":false,"ticks":true,"tickSize":8,"tickColor":"#444444","labelFont":"Liberation Sans","labelFontSize":13,"labelColor":"#555555","labelPadding":13,"labelFlush":false,"labelOverlap":false}},"y":{"datum":0.80746,"type":"quantitative","scale":{"domain":[0.73006,0.98389],"nice":false,"zero":false},"axis":{"values":[0.75,0.8,0.85],"labelExpr":"abs(datum.value - 0.8) < 0.001 ? '' : format(datum.value, '.2f')","title":null,"domain":false,"grid":false,"ticks":true,"tickSize":9,"tickColor":"#444444","labelAngle":-90,"labelAlign":"center","labelBaseline":"alphabetic","labelPadding":7.6,"labelFont":"Liberation Sans","labelFontSize":13,"labelColor":"#555555","labelFlush":false,"labelOverlap":false,"offset":-67.3}}}},
{"data":{"values":[{}]},"mark":{"type":"text","text":"Tables weights","font":"Liberation Serif","fontSize":14,"align":"center","baseline":"alphabetic","color":"#222222"},"encoding":{"x":{"datum":0.3977,"type":"quantitative","scale":{"domain":[0.34089,0.43787],"nice":false,"zero":false},"axis":{"values":[0.36,0.38,0.4,0.42],"format":".2f","title":null,"domain":false,"grid":false,"ticks":true,"tickSize":8,"tickColor":"#444444","labelFont":"Liberation Sans","labelFontSize":13,"labelColor":"#555555","labelPadding":13,"labelFlush":false,"labelOverlap":false}},"y":{"datum":0.65335,"type":"quantitative","scale":{"domain":[0.73006,0.98389],"nice":false,"zero":false},"axis":{"values":[0.75,0.8,0.85],"labelExpr":"abs(datum.value - 0.8) < 0.001 ? '' : format(datum.value, '.2f')","title":null,"domain":false,"grid":false,"ticks":true,"tickSize":9,"tickColor":"#444444","labelAngle":-90,"labelAlign":"center","labelBaseline":"alphabetic","labelPadding":7.6,"labelFont":"Liberation Sans","labelFontSize":13,"labelColor":"#555555","labelFlush":false,"labelOverlap":false,"offset":-67.3}}}}
]}
]
}
